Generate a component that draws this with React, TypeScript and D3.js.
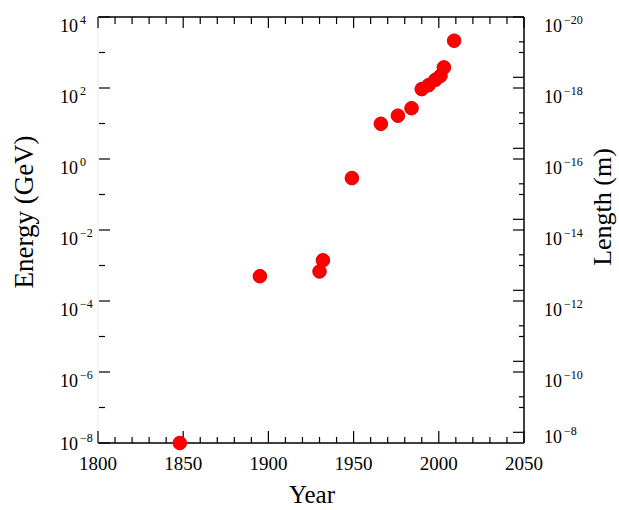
import React from 'react';
import * as d3 from 'd3';

// Discovery year vs. energy scale (GeV)
const years = [1848, 1895, 1930, 1932, 1949, 1966, 1976, 1984, 1990, 1994, 1998, 2001, 2003, 2009];
const energy = [1e-8, 5e-4, 6.8e-4, 1.4e-3, 0.29, 9.8, 16.6, 27, 93, 120, 170, 220, 380, 2150];

const yearTicks = [1800, 1850, 1900, 1950, 2000, 2050];
const energyExps = [4, 2, 0, -2, -4, -6, -8];
const lengthExps = [-20, -18, -16, -14, -12, -10, -8];

const W = 619;
const H = 510;
const left = 98;
const right = 524;
const top = 17;
const bottom = 443;
const font = '"Liberation Serif", "DejaVu Serif", serif';

export default function App() {
  const x = d3.scaleLinear().domain([1800, 2050]).range([left, right]);
  const y = d3.scaleLog().domain([1e-8, 1e4]).range([bottom, top]);
  // length = hbar*c / E  ~ 2e-16 m / E(GeV)
  const yr = d3.scaleLog().domain([2e-20, 2e-8]).range([top, bottom]);

  const minorYears = d3.range(1800, 2051, 10);
  const leftTicks = d3.range(-8, 5).map(k => ({ v: Math.pow(10, k), major: k % 2 === 0 }));
  const rightTicks: { v: number; major: boolean }[] = [];
  d3.range(-20, -7).forEach(n => {
    [1, 2].forEach(m => {
      const v = m * Math.pow(10, n);
      if (v >= 2e-20 && v < 2e-8) rightTicks.push({ v, major: n % 2 === 0 });
    });
  });

  return (
    <svg width={W} height={H} style={{ position: 'absolute', left: 0, top: 0, background: '#fff' }} fontFamily={font}>
      <rect width={W} height={H} fill="#fff" />
      {/* frame */}
      <line x1={left} x2={right} y1={top} y2={top} stroke="#000" strokeWidth={1.5} />
      <line x1={left} x2={right} y1={bottom} y2={bottom} stroke="#000" strokeWidth={1.5} />
      <line x1={right} x2={right} y1={top} y2={bottom} stroke="#000" strokeWidth={1.5} />
      <line x1={left} x2={left} y1={top} y2={bottom} stroke="#ececec" strokeWidth={1} />

      {/* year ticks top and bottom */}
      {minorYears.map(yv => {
        const major = yv % 50 === 0;
        const px = x(yv);
        return (
          <g key={yv}>
            <line x1={px} x2={px} y1={bottom} y2={bottom - (major ? 12 : 6)} stroke="#000" strokeWidth={1.2} />
            <line x1={px} x2={px} y1={top} y2={top + (major ? 11 : 7)} stroke="#000" strokeWidth={1.2} />
          </g>
        );
      })}
      {yearTicks.map(t => (
        <text key={t} x={x(t)} y={470} textAnchor="middle" fontSize={19}>{t}</text>
      ))}

      {/* energy axis */}
      {leftTicks.map(t => (
        <line key={t.v} x1={left + 1} x2={left + (t.major ? 12 : 7)} y1={y(t.v)} y2={y(t.v)} stroke="#000" strokeWidth={1.2} />
      ))}
      {energyExps.map(k => {
        const ty = y(Math.pow(10, k)) + (k === -8 ? 7 : 15);
        return (
          <text key={k} y={ty} fontSize={18}>
            <tspan x={78} textAnchor="end">10</tspan>
            <tspan x={80} dy={-8} fontSize={12}>{k < 0 ? '\u2212' + Math.abs(k) : k}</tspan>
          </text>
        );
      })}

      {/* length axis */}
      {rightTicks.map(t => (
        <line key={t.v} x1={right} x2={right - (t.major ? 11 : 5)} y1={yr(t.v)} y2={yr(t.v)} stroke="#000" strokeWidth={1.2} />
      ))}
      {lengthExps.map(n => {
        const ty = yr(2 * Math.pow(10, n)) + (n === -8 ? 0 : 15);
        return (
          <text key={n} y={ty} fontSize={18}>
            <tspan x={544}>10</tspan>
            <tspan dx={2} dy={-8} fontSize={12}>{'\u2212' + Math.abs(n)}</tspan>
          </text>
        );
      })}

      {/* points */}
      {years.map((yv, i) => (
        <circle key={i} cx={x(yv)} cy={y(energy[i])} r={6.8} fill="#ff0000" stroke="#e00000" strokeWidth={1} />
      ))}

      {/* axis titles */}
      <text x={312} y={503} textAnchor="middle" fontSize={25}>Year</text>
      <text transform="translate(33,212) rotate(-90)" textAnchor="middle" fontSize={27}>Energy (GeV)</text>
      <text transform="translate(611,207) rotate(-90)" textAnchor="middle" fontSize={26}>Length (m)</text>
    </svg>
  );
}
